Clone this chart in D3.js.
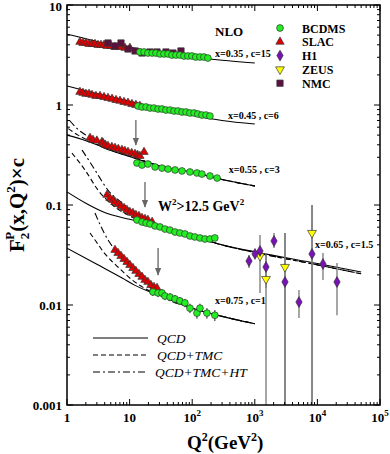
<!DOCTYPE html>
<html>
<head>
  <meta charset="utf-8">
  <script src="https://d3js.org/d3.v7.min.js"></script>
  <style type="text/css">
    body { margin: 0; background: #fff; }
    svg { font-family: "Liberation Serif", "DejaVu Serif", serif; }
    .tick-label { font-size: 13px; font-weight: bold; }
  </style>
</head>
<body>
<script type="text/javascript">

// ---- data: [Q2, F2*c] ----
const slac35 = [[1.61,4.27],[1.80,4.17],[2.01,4.17],[2.25,4.07],[2.51,4.07],[2.80,4.07],[3.13,3.98],[3.49,3.98],[3.90,3.98],[4.36,3.89],[5.04,3.89],[5.84,3.80],[7.02,3.80],[8.45,3.72],[10.1,3.72]];
const nmc35 = [[4.52,4.17],[5.84,3.89],[7.29,4.17],[9.43,3.63],[12.2,3.47],[15.8,3.31],[21.2,3.39],[27.4,3.39],[38.1,3.39],[49.3,3.31],[66.2,3.47]];
const bcdms35 = [[14.6,3.39],[17.0,3.39],[19.6,3.31],[22.9,3.31],[26.4,3.31],[30.6,3.24],[35.4,3.24],[41.1,3.24],[47.5,3.16],[55.1,3.16],[63.6,3.16],[73.8,3.09],[85.4,3.09],[98.8,3.09],[114,3.02],[133,3.02],[154,3.02],[178,2.95]];

const slac45 = [[1.61,1.35],[1.80,1.32],[2.01,1.29],[2.25,1.29],[2.51,1.26],[2.90,1.23],[3.37,1.23],[3.90,1.20],[4.52,1.175],[5.24,1.15],[6.07,1.12],[7.02,1.10],[8.14,1.07],[9.43,1.05],[10.9,1.02],[12.6,1.0],[14.6,0.977]];
const bcdms45 = [[13.6,0.977],[15.8,0.955],[18.3,0.955],[21.2,0.933],[24.5,0.933],[28.5,0.912],[32.9,0.912],[38.1,0.891],[44.3,0.891],[51.2,0.871],[59.3,0.871],[68.8,0.851],[79.6,0.851],[92,0.832],[107,0.832],[123,0.813],[143,0.794],[166,0.794],[192,0.776]];

const slac55 = [[2.33,0.468],[2.6,0.447],[3.0,0.44],[3.62,0.427],[3.76,0.417],[4.1,0.40],[4.52,0.389],[5.2,0.38],[5.84,0.372],[6.6,0.363],[7.56,0.355],[8.4,0.347],[9.43,0.339],[10.8,0.33],[12.2,0.324],[13.4,0.316],[14.6,0.309],[17.0,0.339]];
const bcdms55 = [[13.1,0.263],[15.8,0.251],[19.6,0.257],[25.5,0.240],[32.9,0.234],[41.1,0.229],[53.2,0.224],[68.8,0.219],[92,0.214],[119,0.209],[143,0.204],[192,0.195],[250,0.186]];

const slac65 = [[4.36,0.126],[4.86,0.117],[5.43,0.112],[5.84,0.107],[6.52,0.102],[7.29,0.0977],[8.14,0.0933],[9.09,0.0891],[10.1,0.0851],[11.3,0.0832],[12.6,0.0794],[14.1,0.0776],[15.8,0.0741],[17.6,0.0724],[19.6,0.0708],[22.9,0.0676]];
const bcdms65 = [[13.1,0.0708],[15.8,0.0676],[18.3,0.066],[21.2,0.0646],[25.5,0.0617],[30.6,0.0603],[36.7,0.0575],[44,0.0562],[53,0.0537],[63.6,0.0525],[76.5,0.0513],[92,0.049],[110,0.0479],[133,0.0468],[160,0.0457],[192,0.0457],[230,0.0468]];
// [Q2, value, low, high]
const h1 = [[808,0.0275,0.0234,0.0316],[1007,0.0324,0.0295,0.0355],[1211,0.0347,0.0132,0.0501],[1510,0.024,0.0148,0.0316],[2027,0.0437,0.0372,0.0525],[3036,0.017,0.0009,0.0525],[5080,0.0107,0.0074,0.0141],[8200,0.0324,0.0009,0.1],[12280,0.0257,0.0178,0.0331],[20560,0.017,0.0079,0.0263]];
const zeus = [[1211,0.0309,0.028,0.034],[1510,0.0182,0.0009,0.0331],[3036,0.024,0.0009,0.0525],[8200,0.0525,0.0009,0.1]];

const slac75 = [[5.84,0.0355],[6.52,0.0331],[7.29,0.0309],[8.14,0.0288],[9.09,0.0269],[10.1,0.0251],[11.3,0.0234],[12.6,0.0219],[14.1,0.0204],[15.8,0.0191],[17.6,0.0178],[19.6,0.017],[21.9,0.0158],[24.5,0.0151],[27.4,0.0148]];
// [Q2, value, error]
const bcdms75 = [[23.6,0.0135,0.0012],[28.5,0.0132,0.0012],[32.9,0.0132,0.0012],[36.7,0.0123,0.0011],[44.3,0.012,0.0011],[53.2,0.0115,0.0011],[63.6,0.011,0.001],[76.5,0.0105,0.001],[92,0.0093,0.001],[119,0.0083,0.001],[133,0.0093,0.001],[172,0.0083,0.001],[230,0.0079,0.001]];

// theory curves
const qcd35 = [[1,5.1],[2,4.6],[3.13,4.27],[10,3.78],[30,3.35],[100,3.02],[300,2.8],[1000,2.63]];
const qcd45 = [[1,1.55],[3,1.30],[10,1.09],[30,0.93],[100,0.79],[300,0.70],[1000,0.646]];
const qcd55 = [[1,0.5],[2,0.44],[3,0.40],[5,0.35],[10,0.305],[20,0.265],[30,0.245],[100,0.213],[300,0.18],[1000,0.155]];
const tmc55 = [[1.05,0.58],[1.5,0.5],[2,0.455],[3,0.405],[5,0.353],[10,0.307],[20,0.266],[30,0.246],[100,0.213],[300,0.18],[1000,0.155]];
const ht55 = [[1.1,0.7],[1.5,0.57],[2,0.5],[3,0.43],[5,0.362],[10,0.31],[20,0.268],[30,0.247],[100,0.214],[300,0.18],[1000,0.155]];
const qcd65 = [[1,0.135],[2,0.104],[4,0.084],[10,0.072],[20,0.065],[30,0.06],[100,0.049],[300,0.04],[1000,0.034],[10000,0.026],[50000,0.0214]];
const tmc65 = [[1.2,0.33],[1.94,0.224],[3.13,0.141],[5.84,0.0955],[10.9,0.0759],[15.8,0.0676],[30,0.0603],[100,0.049],[300,0.0398],[1000,0.0335],[10000,0.0252],[50000,0.0205]];
const ht65 = [[1.74,0.355],[2.8,0.224],[4.5,0.141],[7.56,0.105],[13.6,0.079],[22,0.066],[30,0.0605],[100,0.049],[300,0.0398],[1000,0.0335],[10000,0.0252],[50000,0.0205]];
const qcd75 = [[1,0.037],[3,0.0255],[7.6,0.0186],[12,0.0158],[20,0.0137],[30,0.0125],[100,0.0093],[300,0.0077],[1000,0.0065]];
const tmc75 = [[2.33,0.0525],[2.8,0.0447],[4.05,0.0324],[6.5,0.024],[11,0.0178],[19.6,0.0141],[30,0.0126],[100,0.0093],[300,0.0077],[1000,0.0065]];
const ht75 = [[2.8,0.083],[3.4,0.063],[4.52,0.0447],[7.0,0.0316],[10.9,0.024],[21.2,0.0151],[30,0.0127],[100,0.0093],[300,0.0077],[1000,0.0065]];

// W^2 cut arrows: [Q2, from, to]
const arrows = [[12.6,0.708,0.398],[17.6,0.17,0.0955],[28.5,0.0372,0.02]];
// curve labels: [text, Q2 at left edge, value at baseline]
const curveLabels = [["x=0.35 , c=15",231,3.02],["x=0.45 , c=6",373,0.724],["x=0.55 , c=3",385,0.209],["x=0.65 , c=1.5",9140,0.0372],["x=0.75 , c=1",231,0.0102]];
const legendNames = ["BCDMS","SLAC","H1","ZEUS","NMC"];
const lineNames = ["QCD","QCD+TMC","QCD+TMC+HT"];
const yTicks = [10,1,0.1,0.01,0.001];
const xTicks = [1,10,100,1000,10000,100000];

// ---- layout ----
const W = 390, H = 454;
const svg = d3.select('body').append('svg').attr('width', W).attr('height', H);

const x = d3.scaleLog().domain([1, 1e5]).range([67, 380]);
const y = d3.scaleLog().domain([0.001, 10]).range([405, 5]);

svg.append('clipPath').attr('id', 'plot')
  .append('rect').attr('x', 67).attr('y', 5).attr('width', 313).attr('height', 400);

const plot = svg.append('g').attr('clip-path', 'url(#plot)');

// ---- theory curves ----
const line = d3.line().x(d => x(d[0])).y(d => y(d[1])).curve(d3.curveMonotoneX);
const dashStyles = {solid: null, dash: '5,3', dashdot: '7,3,2,3'};
function curve(data, style) {
  plot.append('path').datum(data)
    .attr('d', line)
    .attr('fill', 'none')
    .attr('stroke', '#000')
    .attr('stroke-width', 1.1)
    .attr('stroke-dasharray', dashStyles[style]);
}
[qcd35, qcd45, qcd55, qcd65, qcd75].forEach(d => curve(d, 'solid'));
[tmc55, tmc65, tmc75].forEach(d => curve(d, 'dash'));
[ht55, ht65, ht75].forEach(d => curve(d, 'dashdot'));

// ---- error bars ----
plot.selectAll('.err-hz').data(h1.concat(zeus)).join('line')
  .attr('x1', d => x(d[0])).attr('x2', d => x(d[0]))
  .attr('y1', d => y(d[2])).attr('y2', d => y(d[3]))
  .attr('stroke', '#777').attr('stroke-width', 1.3);
plot.selectAll('.err-b').data(bcdms75).join('line')
  .attr('x1', d => x(d[0])).attr('x2', d => x(d[0]))
  .attr('y1', d => y(d[1] - d[2])).attr('y2', d => y(d[1] + d[2]))
  .attr('stroke', '#222').attr('stroke-width', 1);

// ---- markers ----
const markerStyle = {
  BCDMS: {type: d3.symbolCircle, size: 36, fill: '#22ee22', rot: 0},
  SLAC: {type: d3.symbolTriangle, size: 30, fill: '#dd0000', rot: 0},
  H1: {type: d3.symbolDiamond, size: 34, fill: '#7a10b8', rot: 0},
  ZEUS: {type: d3.symbolTriangle, size: 34, fill: '#ffff00', rot: 180},
  NMC: {type: d3.symbolSquare, size: 40, fill: '#5c1040', rot: 0}
};
function points(data, name) {
  const s = markerStyle[name];
  plot.append('g').selectAll('path').data(data).join('path')
    .attr('d', d3.symbol().type(s.type).size(s.size))
    .attr('transform', d => `translate(${x(d[0])},${y(d[1])}) rotate(${s.rot})`)
    .attr('fill', s.fill)
    .attr('stroke', '#333')
    .attr('stroke-width', 0.7);
}
points(slac35, 'SLAC'); points(nmc35, 'NMC'); points(bcdms35, 'BCDMS');
points(slac45, 'SLAC'); points(bcdms45, 'BCDMS');
points(slac55, 'SLAC'); points(bcdms55, 'BCDMS');
points(slac65, 'SLAC'); points(bcdms65, 'BCDMS');
points(zeus, 'ZEUS'); points(h1, 'H1');
points(slac75, 'SLAC'); points(bcdms75, 'BCDMS');

// ---- arrows ----
svg.append('defs').append('marker')
  .attr('id', 'head').attr('viewBox', '0 0 10 10')
  .attr('refX', 9).attr('refY', 5)
  .attr('markerWidth', 6).attr('markerHeight', 8)
  .attr('orient', 'auto')
  .append('path').attr('d', 'M0,1 L10,5 L0,9 Z').attr('fill', '#666');
svg.selectAll('.arrow').data(arrows).join('line')
  .attr('x1', d => x(d[0])).attr('x2', d => x(d[0]))
  .attr('y1', d => y(d[1])).attr('y2', d => y(d[2]))
  .attr('stroke', '#666').attr('stroke-width', 1.3)
  .attr('marker-end', 'url(#head)');

// ---- axes (ticks inside on all four sides) ----
const frame = svg.append('g');
frame.append('rect').attr('x', 67).attr('y', 5).attr('width', 313).attr('height', 400)
  .attr('fill', 'none').attr('stroke', '#000').attr('stroke-width', 1.5);

const minorX = [], minorY = [];
for (let e = 0; e < 5; e++) for (let m = 2; m < 10; m++) minorX.push(m * Math.pow(10, e));
for (let e = -3; e < 1; e++) for (let m = 2; m < 10; m++) minorY.push(m * Math.pow(10, e));

function xTickLines(vals, len) {
  frame.selectAll(null).data(vals).join('line')
    .attr('x1', d => x(d)).attr('x2', d => x(d)).attr('y1', 405).attr('y2', 405 - len)
    .attr('stroke', '#000');
  frame.selectAll(null).data(vals).join('line')
    .attr('x1', d => x(d)).attr('x2', d => x(d)).attr('y1', 5).attr('y2', 5 + len)
    .attr('stroke', '#000');
}
function yTickLines(vals, len) {
  frame.selectAll(null).data(vals).join('line')
    .attr('y1', d => y(d)).attr('y2', d => y(d)).attr('x1', 67).attr('x2', 67 + len)
    .attr('stroke', '#000');
  frame.selectAll(null).data(vals).join('line')
    .attr('y1', d => y(d)).attr('y2', d => y(d)).attr('x1', 380).attr('x2', 380 - len)
    .attr('stroke', '#000');
}
xTickLines(xTicks, 6); xTickLines(minorX, 3);
yTickLines(yTicks, 6); yTickLines(minorY, 3);

// tick labels
svg.selectAll('.ylab').data(yTicks).join('text')
  .attr('class', 'tick-label')
  .attr('x', 62).attr('y', d => Math.max(y(d) + 4.5, 11))
  .attr('text-anchor', 'end')
  .text(d => d);

svg.selectAll('.xlab').data(xTicks).join('text')
  .attr('class', 'tick-label')
  .attr('x', d => x(d)).attr('y', 422)
  .attr('text-anchor', 'middle')
  .each(function(d) {
    const t = d3.select(this);
    const e = Math.round(Math.log10(d));
    if (e < 2) { t.text(d); return; }
    t.append('tspan').text('10');
    t.append('tspan').attr('dy', -6).attr('font-size', 9).text(e);
  });

// axis titles
const xt = svg.append('text').attr('x', 187).attr('y', 449)
  .attr('font-size', 19).attr('font-weight', 'bold');
xt.append('tspan').text('Q');
xt.append('tspan').attr('dy', -8).attr('font-size', 12).text('2');
xt.append('tspan').attr('dy', 8).text('(GeV');
xt.append('tspan').attr('dy', -8).attr('font-size', 12).text('2');
xt.append('tspan').attr('dy', 8).text(')');

const yt = svg.append('text')
  .attr('transform', 'translate(24,252) rotate(-90)')
  .attr('font-size', 21).attr('font-weight', 'bold');
yt.append('tspan').text('F');
yt.append('tspan').attr('dy', 5).attr('font-size', 13).text('2');
yt.append('tspan').attr('dx', -7).attr('dy', -15).attr('font-size', 13).text('P');
yt.append('tspan').attr('dy', 10).text('(x,Q');
yt.append('tspan').attr('dy', -9).attr('font-size', 13).text('2');
yt.append('tspan').attr('dy', 9).text(')×c');

// ---- annotations ----
svg.selectAll('.clab').data(curveLabels).join('text')
  .attr('x', d => x(d[1])).attr('y', d => y(d[2]))
  .attr('font-size', 10).attr('font-weight', 'bold')
  .text(d => d[0]);

const wt = svg.append('text').attr('x', 158).attr('y', 211)
  .attr('font-size', 14).attr('font-weight', 'bold');
wt.append('tspan').text('W');
wt.append('tspan').attr('dy', -6).attr('font-size', 9).text('2');
wt.append('tspan').attr('dy', 6).text('>12.5 GeV');
wt.append('tspan').attr('dy', -6).attr('font-size', 9).text('2');

svg.append('text').attr('x', 215).attr('y', 36)
  .attr('font-size', 13).attr('font-weight', 'bold').text('NLO');

// data legend
const leg = svg.append('g').attr('transform', 'translate(280,28)');
legendNames.forEach((name, i) => {
  const s = markerStyle[name];
  leg.append('path')
    .attr('d', d3.symbol().type(s.type).size(s.size))
    .attr('transform', `translate(0,${i * 13.8}) rotate(${s.rot})`)
    .attr('fill', s.fill).attr('stroke', '#333').attr('stroke-width', 0.7);
  leg.append('text').attr('x', 22).attr('y', i * 13.8 + 4.5)
    .attr('font-size', 12).attr('font-weight', 'bold').text(name);
});

// line legend
const lleg = svg.append('g').attr('transform', 'translate(93,338)');
lineNames.forEach((name, i) => {
  const style = ['solid', 'dash', 'dashdot'][i];
  lleg.append('line').attr('x1', 0).attr('x2', 55)
    .attr('y1', i * 17).attr('y2', i * 17)
    .attr('stroke', '#000').attr('stroke-width', 1.1)
    .attr('stroke-dasharray', dashStyles[style]);
  lleg.append('text').attr('x', i === 2 ? 62 : 64).attr('y', i * 17 + 5)
    .attr('font-size', 13.5).attr('font-style', 'italic').text(name);
});

</script>
</body>
</html>
